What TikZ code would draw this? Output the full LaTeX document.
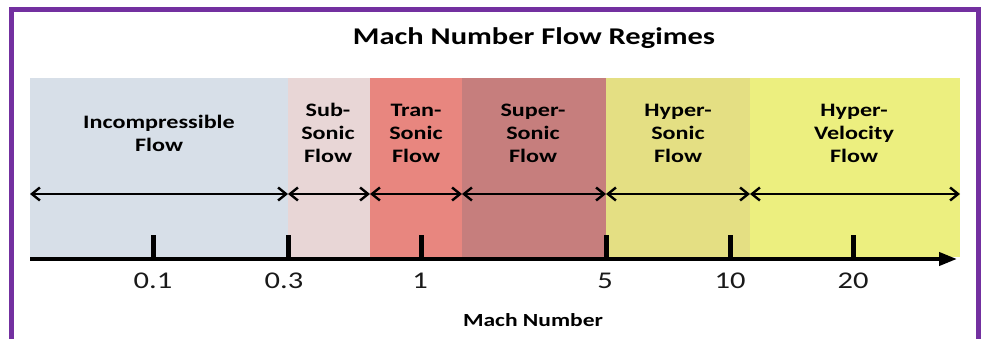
\documentclass[tikz,border=0pt]{standalone}
\usepackage{fontspec}
\setmainfont[FakeStretch=1.27]{Carlito}
\usetikzlibrary{arrows.meta}
\definecolor{framepurple}{HTML}{7330A0}
\definecolor{cIncomp}{HTML}{D7DFE8}
\definecolor{cSub}{HTML}{E8D6D6}
\definecolor{cTran}{HTML}{E8867F}
\definecolor{cSuper}{HTML}{C67E7D}
\definecolor{cHyperS}{HTML}{E4DF83}
\definecolor{cHyperV}{HTML}{ECEF7F}
\tikzset{
  bandlabel/.style={font=\fontsize{19}{23}\selectfont\bfseries, align=center, text=black},
  numlabel/.style={font=\fontsize{24}{28}\selectfont, text=black!90},
  dblarrow/.style={line width=2.4pt, {Straight Barb[length=8pt,width=13pt]}-{Straight Barb[length=8pt,width=13pt]}},
  tickmark/.style={line width=5pt},
  axisline/.style={line width=4pt, -{Triangle[length=18pt,width=13pt]}},
}
\begin{document}
\begin{tikzpicture}[x=1pt,y=-1pt]
\useasboundingbox (0,0) rectangle (983,339);
\clip (0,0) rectangle (983,339);
\fill[white] (0,0) rectangle (983,339);
% frame
\draw[framepurple, line width=5pt] (11.5,10) rectangle (978,360);
% title
\node[font=\fontsize{24}{28}\selectfont\bfseries] (title) at (534,38) {Mach Number Flow Regimes};
% bands
\fill[cIncomp] (30,78) rectangle (288,257);
\fill[cSub] (288,78) rectangle (370,257);
\fill[cTran] (370,78) rectangle (462,257);
\fill[cSuper] (462,78) rectangle (606,257);
\fill[cHyperS] (606,78) rectangle (750,257);
\fill[cHyperV] (750,78) rectangle (960,257);
% band labels
\node[bandlabel] (lIncomp) at (159,133) {Incompressible\\Flow};
\node[bandlabel] (lSub) at (328,133) {Sub-\\Sonic\\Flow};
\node[bandlabel] (lTran) at (416,133) {Tran-\\Sonic\\Flow};
\node[bandlabel] (lSuper) at (533,133) {Super-\\Sonic\\Flow};
\node[bandlabel] (lHyperS) at (678,133) {Hyper-\\Sonic\\Flow};
\node[bandlabel] (lHyperV) at (854,133) {Hyper-\\Velocity\\Flow};
% double arrows
\coordinate (e0) at (30,194);
\coordinate (e1) at (288,194);
\coordinate (e2) at (370,194);
\coordinate (e3) at (462,194);
\coordinate (e4) at (606,194);
\coordinate (e5) at (750,194);
\coordinate (e6) at (960,194);
\draw[dblarrow] (e0) -- (e1);
\draw[dblarrow] (e1) -- (e2);
\draw[dblarrow] (e2) -- (e3);
\draw[dblarrow] (e3) -- (e4);
\draw[dblarrow] (e4) -- (e5);
\draw[dblarrow] (e5) -- (e6);
% axis
\coordinate (ax0) at (30,259);
\coordinate (ax1) at (957,259);
\draw[axisline] (ax0) -- (ax1);
% ticks
\foreach \x/\n in {153/t1, 288/t2, 421/t3, 606/t4, 730/t5, 853/t6}{
  \coordinate (\n top) at (\x,235.5);
  \coordinate (\n bot) at (\x,259);
  \draw[tickmark] (\n top) -- (\n bot);
}
% numbers
\node[numlabel] (n1) at (153,281) {0.1};
\node[numlabel] (n2) at (284,281) {0.3};
\node[numlabel] (n3) at (420,281) {1};
\node[numlabel] (n4) at (605,281) {5};
\node[numlabel] (n5) at (730,281) {10};
\node[numlabel] (n6) at (853,281) {20};
% axis title
\node[font=\fontsize{18.5}{22}\selectfont\bfseries] (axtitle) at (533,320) {Mach Number};
\end{tikzpicture}
\end{document}
